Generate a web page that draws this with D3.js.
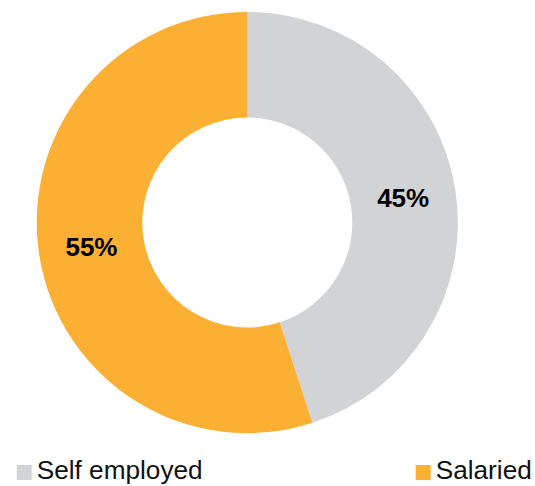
<!DOCTYPE html>
<html>
<head>
<meta charset="utf-8">
<script src="https://cdn.jsdelivr.net/npm/d3@7"></script>
<style>
  html, body { margin: 0; padding: 0; background: #ffffff; }
  svg { display: block; }
</style>
</head>
<body>
<svg id="chart" width="535" height="486"></svg>
<script>
// Employment type split
const categories = ["Self employed", "Salaried"];
const values = [45, 55];
const colors = ["#D1D3D4", "#FBB034"];

const svg = d3.select("#chart");
const cx = 247.3, cy = 222.5;
const outerR = 210.6, innerR = 105;

const pie = d3.pie().sort(null).value(d => d.value);
const arc = d3.arc().innerRadius(innerR).outerRadius(outerR);

const data = categories.map((c, i) => ({ name: c, value: values[i], color: colors[i] }));
const arcs = pie(data);

const g = svg.append("g").attr("transform", `translate(${cx},${cy})`);

g.selectAll("path.slice")
  .data(arcs)
  .join("path")
  .attr("class", "slice")
  .attr("d", arc)
  .attr("fill", d => d.data.color);

g.selectAll("text.value")
  .data(arcs)
  .join("text")
  .attr("class", "value")
  .attr("transform", d => `translate(${arc.centroid(d)})`)
  .attr("text-anchor", "middle")
  .attr("dy", "0.35em")
  .attr("font-family", "Liberation Sans, Arial, sans-serif")
  .attr("font-weight", "bold")
  .attr("font-size", 26)
  .attr("fill", "#000")
  .text(d => d.data.value + "%");

// Legend
const legendX = [16.7, 415.7];
const legend = svg.selectAll("g.legend")
  .data(data)
  .join("g")
  .attr("class", "legend")
  .attr("transform", (d, i) => `translate(${legendX[i]},465)`);

legend.append("rect")
  .attr("width", 15)
  .attr("height", 15)
  .attr("fill", d => d.color);

legend.append("text")
  .attr("x", 20)
  .attr("y", 14)
  .attr("font-family", "Liberation Sans, Arial, sans-serif")
  .attr("font-size", 26.2)
  .attr("fill", "#111")
  .text(d => d.name);
</script>
</body>
</html>
